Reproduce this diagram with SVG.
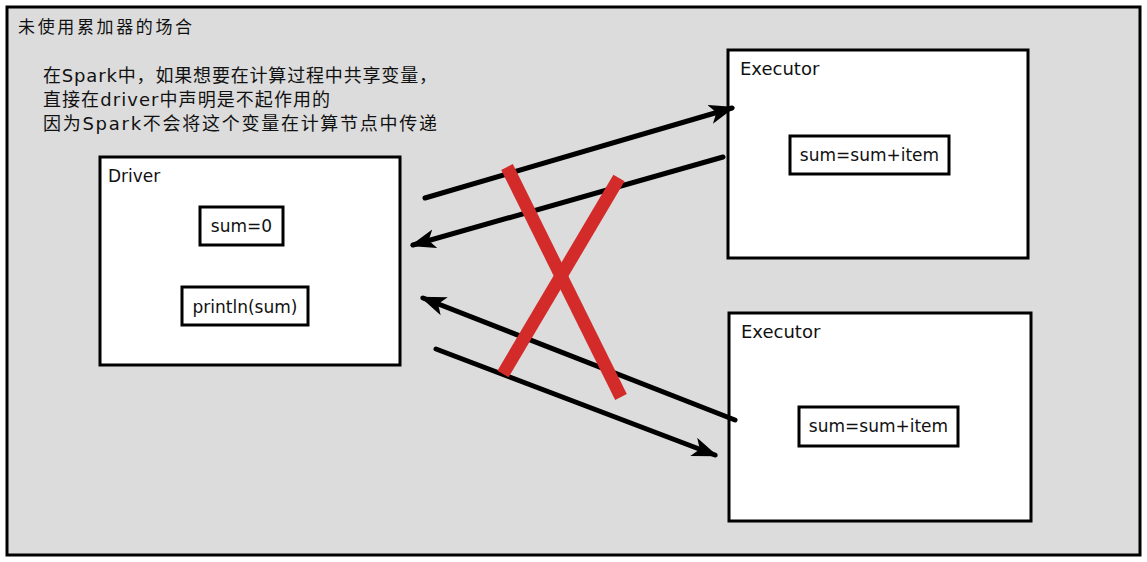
<svg xmlns="http://www.w3.org/2000/svg" width="1147" height="562" viewBox="0 0 1147 562">
<style>
.t{font-family:"DejaVu Sans","Noto Sans CJK SC",sans-serif;fill:#111}
.box{fill:#fff;stroke:#000;stroke-width:3}
.ibox{fill:#fff;stroke:#000;stroke-width:3}
.conn{stroke:#000;stroke-width:5;fill:none;stroke-linecap:round}
.x{stroke:#d32a2a;stroke-width:13;stroke-linecap:butt}
</style>
<defs>
<marker id="ah" viewBox="0 0 24 18" refX="21" refY="9" markerWidth="26" markerHeight="20" markerUnits="userSpaceOnUse" orient="auto">
<path d="M0,0 L24,9 L0,18 L6,9 Z" fill="#000"/>
</marker>
</defs>
<rect width="1147" height="562" fill="#fff"/>
<g id="frame">
<rect x="7" y="7" width="1133" height="548" fill="#dcdcdc" stroke="#000" stroke-width="3"/>
<text class="t" x="18" y="33" font-size="17" textLength="174">未使用累加器的场合</text>
<text class="t" x="43" y="82" font-size="18" textLength="394">在Spark中，如果想要在计算过程中共享变量，</text>
<text class="t" x="43" y="106" font-size="18" textLength="287">直接在driver中声明是不起作用的</text>
<text class="t" x="43" y="130" font-size="18" textLength="394">因为Spark不会将这个变量在计算节点中传递</text>
</g>
<g id="driver">
<rect class="box" x="100" y="157" width="300" height="208"/>
<text class="t" x="108" y="182" font-size="17">Driver</text>
<rect class="ibox" x="200" y="207" width="83" height="38"/>
<text class="t" x="241.5" y="232" font-size="17" text-anchor="middle">sum=0</text>
<rect class="ibox" x="182" y="287" width="126" height="38"/>
<text class="t" x="245" y="313" font-size="17" text-anchor="middle">println(sum)</text>
</g>
<g id="executor1">
<rect class="box" x="728" y="50" width="300" height="208"/>
<text class="t" x="740" y="75" font-size="18">Executor</text>
<rect class="ibox" x="790" y="136" width="159" height="38"/>
<text class="t" x="869.5" y="161" font-size="17" text-anchor="middle">sum=sum+item</text>
</g>
<g id="executor2">
<rect class="box" x="729" y="313" width="302" height="208"/>
<text class="t" x="741" y="338" font-size="18">Executor</text>
<rect class="ibox" x="799" y="407" width="159" height="39"/>
<text class="t" x="878.5" y="432" font-size="17" text-anchor="middle">sum=sum+item</text>
</g>
<g id="connectors">
<line class="conn" x1="425" y1="198" x2="732" y2="108" marker-end="url(#ah)"/>
<line class="conn" x1="723" y1="157" x2="413" y2="245" marker-end="url(#ah)"/>
<line class="conn" x1="735" y1="420" x2="423" y2="298" marker-end="url(#ah)"/>
<line class="conn" x1="436" y1="349" x2="715" y2="455" marker-end="url(#ah)"/>
</g>
<g id="cross">
<line class="x" x1="507" y1="167" x2="621" y2="397"/>
<line class="x" x1="619" y1="178" x2="503" y2="374"/>
</g>
</svg>
